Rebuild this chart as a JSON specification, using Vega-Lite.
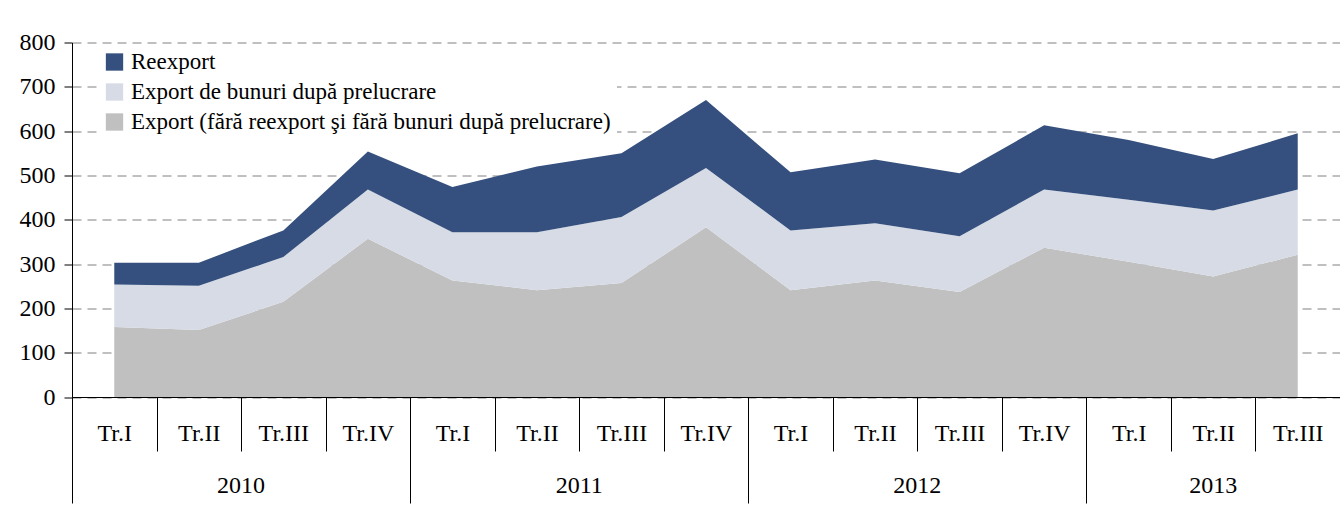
{
  "$schema": "https://vega.github.io/schema/vega-lite/v6.json",
  "width": 1268,
  "height": 354.5,
  "autosize": {"type": "none"},
  "padding": {"left": 72, "top": 42.5, "right": 0, "bottom": 119},
  "background": "white",
  "config": {
    "view": {"stroke": null},
    "font": "Liberation Serif",
    "axis": {"labelFont": "Liberation Serif", "labelFontSize": 24, "labelColor": "black", "tickColor": "black", "domainColor": "black", "title": null}
  },
  "data": {
    "values": [
      {"q": "2010|Tr.I", "series": "Export (fără reexport şi fără bunuri după prelucrare)", "v": 158},
      {"q": "2010|Tr.I", "series": "Export de bunuri după prelucrare", "v": 96},
      {"q": "2010|Tr.I", "series": "Reexport", "v": 49},
      {"q": "2010|Tr.II", "series": "Export (fără reexport şi fără bunuri după prelucrare)", "v": 151},
      {"q": "2010|Tr.II", "series": "Export de bunuri după prelucrare", "v": 100},
      {"q": "2010|Tr.II", "series": "Reexport", "v": 52},
      {"q": "2010|Tr.III", "series": "Export (fără reexport şi fără bunuri după prelucrare)", "v": 215},
      {"q": "2010|Tr.III", "series": "Export de bunuri după prelucrare", "v": 101},
      {"q": "2010|Tr.III", "series": "Reexport", "v": 60},
      {"q": "2010|Tr.IV", "series": "Export (fără reexport şi fără bunuri după prelucrare)", "v": 357},
      {"q": "2010|Tr.IV", "series": "Export de bunuri după prelucrare", "v": 111},
      {"q": "2010|Tr.IV", "series": "Reexport", "v": 86},
      {"q": "2011|Tr.I", "series": "Export (fără reexport şi fără bunuri după prelucrare)", "v": 263},
      {"q": "2011|Tr.I", "series": "Export de bunuri după prelucrare", "v": 109},
      {"q": "2011|Tr.I", "series": "Reexport", "v": 102},
      {"q": "2011|Tr.II", "series": "Export (fără reexport şi fără bunuri după prelucrare)", "v": 241},
      {"q": "2011|Tr.II", "series": "Export de bunuri după prelucrare", "v": 131},
      {"q": "2011|Tr.II", "series": "Reexport", "v": 148},
      {"q": "2011|Tr.III", "series": "Export (fără reexport şi fără bunuri după prelucrare)", "v": 257},
      {"q": "2011|Tr.III", "series": "Export de bunuri după prelucrare", "v": 149},
      {"q": "2011|Tr.III", "series": "Reexport", "v": 144},
      {"q": "2011|Tr.IV", "series": "Export (fără reexport şi fără bunuri după prelucrare)", "v": 383},
      {"q": "2011|Tr.IV", "series": "Export de bunuri după prelucrare", "v": 134},
      {"q": "2011|Tr.IV", "series": "Reexport", "v": 153},
      {"q": "2012|Tr.I", "series": "Export (fără reexport şi fără bunuri după prelucrare)", "v": 241},
      {"q": "2012|Tr.I", "series": "Export de bunuri după prelucrare", "v": 135},
      {"q": "2012|Tr.I", "series": "Reexport", "v": 131},
      {"q": "2012|Tr.II", "series": "Export (fără reexport şi fără bunuri după prelucrare)", "v": 263},
      {"q": "2012|Tr.II", "series": "Export de bunuri după prelucrare", "v": 129},
      {"q": "2012|Tr.II", "series": "Reexport", "v": 144},
      {"q": "2012|Tr.III", "series": "Export (fără reexport şi fără bunuri după prelucrare)", "v": 237},
      {"q": "2012|Tr.III", "series": "Export de bunuri după prelucrare", "v": 126},
      {"q": "2012|Tr.III", "series": "Reexport", "v": 142},
      {"q": "2012|Tr.IV", "series": "Export (fără reexport şi fără bunuri după prelucrare)", "v": 337},
      {"q": "2012|Tr.IV", "series": "Export de bunuri după prelucrare", "v": 131},
      {"q": "2012|Tr.IV", "series": "Reexport", "v": 145},
      {"q": "2013|Tr.I", "series": "Export (fără reexport şi fără bunuri după prelucrare)", "v": 305},
      {"q": "2013|Tr.I", "series": "Export de bunuri după prelucrare", "v": 140},
      {"q": "2013|Tr.I", "series": "Reexport", "v": 135},
      {"q": "2013|Tr.II", "series": "Export (fără reexport şi fără bunuri după prelucrare)", "v": 272},
      {"q": "2013|Tr.II", "series": "Export de bunuri după prelucrare", "v": 149},
      {"q": "2013|Tr.II", "series": "Reexport", "v": 116},
      {"q": "2013|Tr.III", "series": "Export (fără reexport şi fără bunuri după prelucrare)", "v": 321},
      {"q": "2013|Tr.III", "series": "Export de bunuri după prelucrare", "v": 147},
      {"q": "2013|Tr.III", "series": "Reexport", "v": 127}
    ]
  },
  "layer": [
    {
      "transform": [
        {"calculate": "indexof(['Export (fără reexport şi fără bunuri după prelucrare)', 'Export de bunuri după prelucrare', 'Reexport'], datum.series)", "as": "stackOrder"}
      ],
      "mark": {"type": "area", "strokeWidth": 0},
      "encoding": {
        "x": {
          "field": "q", "type": "ordinal", "bandPosition": 0.5,
          "scale": {"type": "band", "paddingInner": 0, "paddingOuter": 0},
          "axis": {
            "orient": "bottom", "tickBand": "extent", "tickSize": 54, "labelExpr": "split(datum.value, '|')[1]",
            "labelBaseline": "middle", "labelPadding": -18, "labelAngle": 0, "domain": true, "grid": false
          }
        },
        "y": {
          "field": "v", "type": "quantitative", "stack": "zero",
          "scale": {"domain": [0, 800], "nice": false},
          "axis": {
            "values": [0, 100, 200, 300, 400, 500, 600, 700, 800], "tickSize": 8, "labelPadding": 9,
            "grid": true, "gridDash": [9, 6], "gridColor": "#808080", "gridWidth": 1
          }
        },
        "color": {
          "field": "series", "type": "nominal",
          "scale": {
            "domain": ["Reexport", "Export de bunuri după prelucrare", "Export (fără reexport şi fără bunuri după prelucrare)"],
            "range": ["#35507e", "#d6dbe5", "#c0c0c0"]
          },
          "legend": {
            "title": null, "orient": "none", "legendX": 25, "legendY": 2, "fillColor": "white", "padding": 6,
            "symbolType": "square", "symbolSize": 300, "symbolStrokeWidth": 0, "labelFont": "Liberation Serif",
            "labelFontSize": 23, "labelColor": "black", "labelOffset": 5, "rowPadding": 6, "labelLimit": 1000
          }
        },
        "order": {"field": "stackOrder", "type": "quantitative"}
      }
    },
    {
      "mark": {"type": "point", "opacity": 0},
      "encoding": {
        "x": {
          "field": "q", "type": "ordinal",
          "scale": {"type": "band", "paddingInner": 0, "paddingOuter": 0},
          "axis": {
            "orient": "bottom", "values": ["2010|Tr.II", "2011|Tr.II", "2012|Tr.II"],
            "ticks": false, "domain": false, "labelExpr": "split(datum.value, '|')[0]", "labelBaseline": "middle",
            "labelPadding": 88, "labelOffset": 42.27, "labelAngle": 0, "grid": false
          }
        }
      }
    },
    {
      "mark": {"type": "point", "opacity": 0},
      "encoding": {
        "x": {
          "field": "q", "type": "ordinal",
          "scale": {"type": "band", "paddingInner": 0, "paddingOuter": 0},
          "axis": {
            "orient": "bottom", "values": ["2013|Tr.II"],
            "ticks": false, "domain": false, "labelExpr": "split(datum.value, '|')[0]", "labelBaseline": "middle",
            "labelPadding": 88, "labelAngle": 0, "grid": false
          }
        }
      }
    },
    {
      "mark": {"type": "point", "opacity": 0},
      "encoding": {
        "x": {
          "field": "q", "type": "ordinal",
          "scale": {"type": "band", "paddingInner": 0, "paddingOuter": 0},
          "axis": {
            "orient": "bottom", "values": ["2010|Tr.I", "2011|Tr.I", "2012|Tr.I", "2013|Tr.I"], "bandPosition": 0,
            "ticks": true, "tickSize": 106, "domain": false, "labels": false, "grid": false
          }
        }
      }
    }
  ],
  "resolve": {"axis": {"x": "independent"}}
}
